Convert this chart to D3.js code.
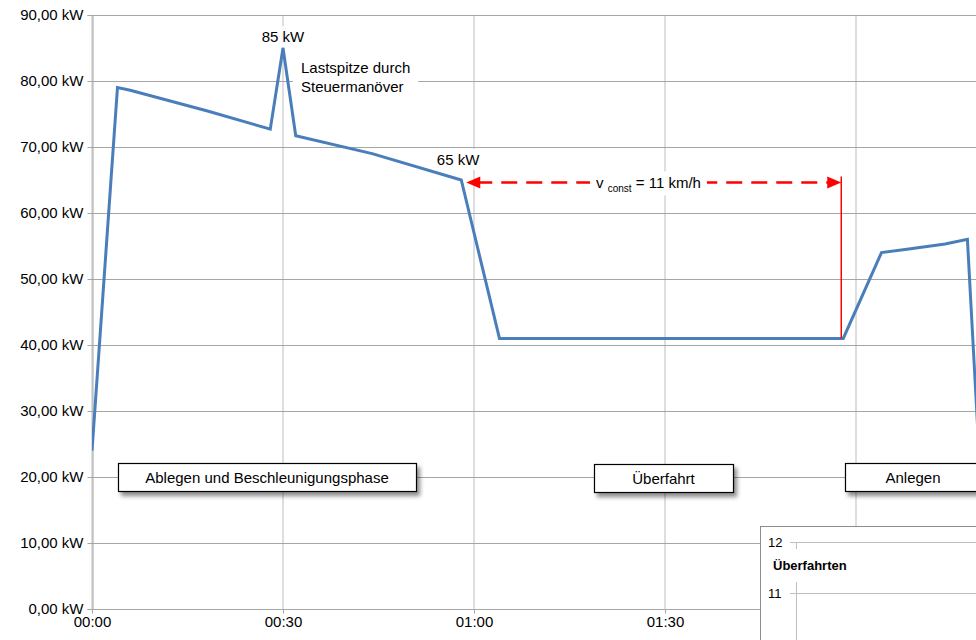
<!DOCTYPE html>
<html><head><meta charset="utf-8">
<script src="https://cdn.jsdelivr.net/npm/d3@7"></script>
<style>
html,body{margin:0;padding:0;background:#fff;}
svg{display:block;font-family:"Liberation Sans",Arial,sans-serif;}
</style></head>
<body>
<svg id="c" width="976" height="640"></svg>
<script>
// ---- data ----
const minutes = [0, 4, 6, 18, 28, 30, 32, 44, 58, 64, 90, 118, 124, 128, 134, 137.5, 139.3];
const powerKW = [24, 79, 78.6, 75.5, 72.7, 85, 71.7, 69, 65, 41, 41, 41, 54, 54.5, 55.3, 56, 24];
const yTicks = [0, 10, 20, 30, 40, 50, 60, 70, 80, 90];
const xTicks = [0, 30, 60, 90, 120];
const phaseLabels = ["Ablegen und Beschleunigungsphase", "Überfahrt", "Anlegen"];
const peakLabel = "85 kW", peakNote = ["Lastspitze durch", "Steuermanöver"];
const cruiseLabel = "65 kW";
const cruiseStart = 58, cruiseEnd = 118, cruiseKW = 64.7;
const insetTicks = [10, 11, 12];
const insetTitle = "Überfahrten";

const svg = d3.select("#c");
const W = 976, H = 640;
const mLeft = 92, mTop = 15, mBottom = 609;
const x = d3.scaleLinear().domain([0, 30]).range([mLeft, 283]);
const y = d3.scaleLinear().domain([0, 90]).range([mBottom, mTop]);

const defs = svg.append("defs");
defs.append("clipPath").attr("id", "plot").append("rect")
  .attr("x", mLeft).attr("y", 0).attr("width", W - mLeft).attr("height", mBottom + 1);
const f = defs.append("filter").attr("id", "sh").attr("x", "-10%").attr("y", "-30%").attr("width", "130%").attr("height", "190%");
f.append("feDropShadow").attr("dx", 3).attr("dy", 4).attr("stdDeviation", 2.2).attr("flood-color", "#000").attr("flood-opacity", 0.45);

// vertical grid
svg.append("g").selectAll("line").data(xTicks).join("line")
  .attr("x1", d => x(d)).attr("x2", d => x(d)).attr("y1", mTop).attr("y2", mBottom)
  .attr("stroke", "#d6d6d6").attr("stroke-width", 1.6);
// horizontal grid
svg.append("g").selectAll("line").data(yTicks).join("line")
  .attr("x1", mLeft).attr("x2", W).attr("y1", d => Math.round(y(d)) + 0.5).attr("y2", d => Math.round(y(d)) + 0.5)
  .attr("stroke", "#a6a6a6").attr("stroke-width", 1);

// y axis
const yAxis = d3.axisLeft(y).tickValues(yTicks).tickSize(5).tickPadding(4)
  .tickFormat(d => d3.format(".2f")(d).replace(".", ",") + " kW");
const gy = svg.append("g").attr("transform", `translate(${mLeft + 0.5},0)`).call(yAxis);
gy.select(".domain").attr("stroke", "#a6a6a6");
gy.selectAll(".tick line").attr("stroke", "#a6a6a6");
gy.selectAll("text").attr("font-size", 15).attr("fill", "#000").attr("font-family", "Liberation Sans, Arial, sans-serif");

// x axis
const xAxis = d3.axisBottom(x).tickValues(xTicks).tickSize(4).tickPadding(3)
  .tickFormat(d => String(Math.floor(d / 60)).padStart(2, "0") + ":" + String(d % 60).padStart(2, "0"));
const gx = svg.append("g").attr("transform", `translate(0,${mBottom + 0.5})`).call(xAxis);
gx.select(".domain").attr("stroke", "#a6a6a6").attr("d", `M${mLeft},0H${W}`);
gx.selectAll(".tick line").attr("stroke", "#a6a6a6");
gx.selectAll("text").attr("font-size", 15).attr("fill", "#000").attr("font-family", "Liberation Sans, Arial, sans-serif");

// text with white background helper
function bgText(tx, ty, lines, opts = {}) {
  const g = svg.append("g");
  const t = g.append("text").attr("font-size", opts.size || 15).attr("fill", "#000")
    .attr("text-anchor", opts.anchor || "start");
  lines.forEach((l, i) => t.append("tspan").attr("x", tx).attr("y", ty + i * (opts.lh || 20)).text(l));
  const bb = t.node().getBBox();
  const p = opts.pad || 4;
  g.insert("rect", "text").attr("x", bb.x - p).attr("y", bb.y - 2).attr("width", bb.width + 2 * p).attr("height", bb.height + 4).attr("fill", "#fff");
  return g;
}

bgText(301, 73, peakNote, {lh: 19, pad: 8});

// data line
const line = d3.line().x((d, i) => x(minutes[i])).y(d => y(d));
svg.append("path").datum(powerKW).attr("clip-path", "url(#plot)")
  .attr("d", line).attr("fill", "none").attr("stroke", "#4a7ebb").attr("stroke-width", 3)
  .attr("stroke-linejoin", "miter");

bgText(x(30), 42, [peakLabel], {anchor: "middle", pad: 3});
bgText(x(57.5), 165, [cruiseLabel], {anchor: "middle", pad: 4});

// red arrow
const ay = Math.round(y(cruiseKW)) + 0.5;
const ax1 = x(cruiseStart) + 5, ax2 = x(cruiseEnd) - 2;
svg.append("line").attr("x1", ax1 + 10).attr("x2", ax2 - 10).attr("y1", ay).attr("y2", ay)
  .attr("stroke", "#ff0000").attr("stroke-width", 2.5).attr("stroke-dasharray", "16,9");
svg.append("path").attr("d", `M${ax1},${ay}l14,-6v12z`).attr("fill", "#ff0000");
svg.append("path").attr("d", `M${ax2},${ay}l-14,-6v12z`).attr("fill", "#ff0000");
svg.append("line").attr("x1", x(cruiseEnd) - 2).attr("x2", x(cruiseEnd) - 2).attr("y1", ay - 6).attr("y2", y(41))
  .attr("stroke", "#ff0000").attr("stroke-width", 1.5);
// v const label
const vg = svg.append("g");
const vt = vg.append("text").attr("x", 596).attr("y", ay + 5).attr("font-size", 15).attr("fill", "#000");
vt.append("tspan").text("v ");
vt.append("tspan").attr("font-size", 10).attr("dy", 4).text("const");
vt.append("tspan").attr("dy", -4).text(" = 11 km/h");
const vb = vt.node().getBBox();
vg.insert("rect", "text").attr("x", vb.x - 6).attr("y", vb.y - 2).attr("width", vb.width + 12).attr("height", vb.height + 4).attr("fill", "#fff");

// phase label boxes
const boxes = [
  {x0: 118, x1: 416, y0: 463},
  {x0: 594, x1: 733, y0: 464},
  {x0: 845, x1: 990, y0: 463}
];
phaseLabels.forEach((lab, i) => {
  const b = boxes[i];
  svg.append("rect").attr("x", b.x0 + 0.5).attr("y", b.y0 + 0.5).attr("width", b.x1 - b.x0).attr("height", 28)
    .attr("fill", "#fff").attr("stroke", "#000").attr("stroke-width", 1.2).attr("filter", "url(#sh)");
  svg.append("text").attr("x", i === 2 ? 913 : (b.x0 + b.x1) / 2).attr("y", b.y0 + 20).attr("text-anchor", "middle")
    .attr("font-size", 15).attr("fill", "#000").text(lab);
});

// inset chart (partially visible)
const iy = d3.scaleLinear().domain([11, 12]).range([593, 542]);
svg.append("rect").attr("x", 760.5).attr("y", 526.5).attr("width", 240).attr("height", 140)
  .attr("fill", "#fff").attr("stroke", "#8c8c8c").attr("stroke-width", 1);
svg.append("g").selectAll("line").data(insetTicks).join("line")
  .attr("x1", 790).attr("x2", W).attr("y1", d => Math.round(iy(d)) + 0.5).attr("y2", d => Math.round(iy(d)) + 0.5)
  .attr("stroke", "#bfbfbf");
svg.append("line").attr("x1", 796.5).attr("x2", 796.5).attr("y1", 542).attr("y2", 549).attr("stroke", "#bfbfbf");
svg.append("line").attr("x1", 796.5).attr("x2", 796.5).attr("y1", 582).attr("y2", 640).attr("stroke", "#bfbfbf");
svg.append("g").selectAll("text").data(insetTicks).join("text")
  .attr("x", 768).attr("y", d => iy(d) + 4.5).attr("font-size", 13).attr("fill", "#000").text(d => d);
svg.append("text").attr("x", 773).attr("y", 570).attr("font-size", 13).attr("font-weight", "bold").attr("fill", "#000").text(insetTitle);
</script>
</body></html>
